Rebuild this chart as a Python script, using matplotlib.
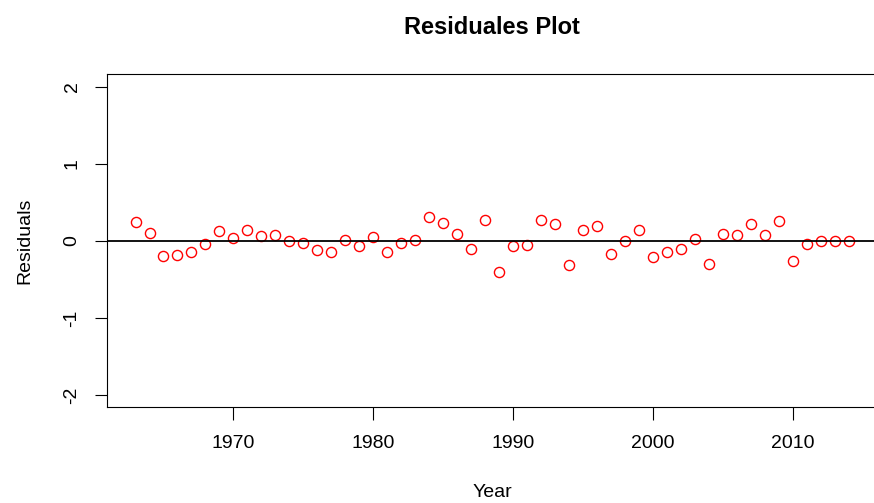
import matplotlib
matplotlib.use("Agg")
import matplotlib.pyplot as plt

# residuals
years = list(range(1963, 2015))
residuals = [0.243, 0.104, -0.195, -0.186, -0.147, -0.043, 0.122, 0.039, 0.135, 0.065,
             0.074, 0.000, -0.035, -0.121, -0.139, 0.009, -0.069, 0.044, -0.151, -0.026,
             0.005, 0.312, 0.234, 0.091, -0.112, 0.269, -0.406, -0.073, -0.056, 0.273,
             0.221, -0.312, 0.143, 0.191, -0.177, -0.004, 0.143, -0.216, -0.147, -0.104,
             0.026, -0.299, 0.087, 0.069, 0.212, 0.074, 0.252, -0.268, -0.047, -0.008,
             -0.004, -0.008]
xticks = [1970, 1980, 1990, 2000, 2010]
yticks = [-2, -1, 0, 1, 2]

plt.rcParams['font.family'] = ['Liberation Sans', 'DejaVu Sans']

fig = plt.figure(figsize=(8.74, 5.03), dpi=100)
ax = fig.add_axes([0.1224, 0.1903, 0.8816, 0.662])

ax.plot(years, residuals, linestyle='none', marker='o', markersize=7.3,
        markerfacecolor='none', markeredgecolor='red', markeredgewidth=1.0)
ax.axhline(0, color='black', linewidth=1.3)

# R style: 4% padding around data range
x0, x1 = min(years), max(years)
pad = (x1 - x0) * 0.04
ax.set_xlim(x0 - pad, x1 + pad)
ax.set_ylim(-2.16, 2.16)

ax.set_xticks(xticks)
ax.set_yticks(yticks)
ax.set_yticklabels([str(v) for v in yticks], rotation=90, va='center')
ax.tick_params(direction='out', length=9, width=0.8, labelsize=14)
ax.tick_params(axis='x', pad=11)
ax.tick_params(axis='y', pad=10)

for side in ['left', 'bottom', 'top', 'right']:
    ax.spines[side].set_linewidth(0.8)

ax.set_title("Residuales Plot", fontsize=17, fontweight='bold', pad=29)
ax.set_xlabel("Year", fontsize=14, labelpad=23)
ax.set_ylabel("Residuals", fontsize=14, labelpad=22)

fig.savefig("out.png", dpi=100)
